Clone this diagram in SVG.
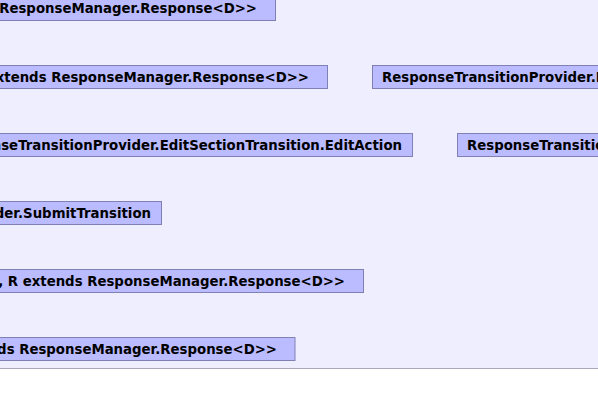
<svg xmlns="http://www.w3.org/2000/svg" width="598" height="406" viewBox="0 0 598 406">
<style>
.bg{fill:#EEEEFF}
.node rect{fill:#BBBBFF;stroke:#8080B4;stroke-width:1}
.node text{font-family:"DejaVu Sans",sans-serif;font-weight:bold;font-size:13.3px;fill:#000}
.r{text-anchor:end}
</style>
<rect x="0" y="0" width="598" height="406" fill="#FFFFFF"/>
<rect class="bg" x="0" y="0" width="598" height="368.5"/>
<line x1="0" y1="368.5" x2="598" y2="368.5" stroke="#A8A8B8" stroke-width="1"/>
<g id="connectors"></g>
<g id="n1" class="node"><rect x="-10" y="-3.5" width="285.5" height="24"/><text class="r" x="257" y="13">ResponseManager.Response&lt;D&gt;&gt;</text></g>
<g id="n2" class="node"><rect x="-10" y="65.5" width="337.5" height="23"/><text class="r" x="309" y="81.5">extends ResponseManager.Response&lt;D&gt;&gt;</text></g>
<g id="n3" class="node"><rect x="372.5" y="65.5" width="260" height="23"/><text x="382" y="81.5">ResponseTransitionProvider.EditSectionTransition</text></g>
<g id="n4" class="node"><rect x="-10" y="133.5" width="422.5" height="23"/><text class="r" x="402" y="149.5">ResponseTransitionProvider.EditSectionTransition.EditAction</text></g>
<g id="n5" class="node"><rect x="457.5" y="133.5" width="200" height="23"/><text x="467" y="149.5">ResponseTransitionProvider.SubmitTransition</text></g>
<g id="n6" class="node"><rect x="-10" y="201.5" width="171.5" height="23"/><text class="r" x="151" y="217.5">ResponseTransitionProvider.SubmitTransition</text></g>
<g id="n7" class="node"><rect x="-10" y="269.5" width="373.5" height="23"/><text class="r" x="345" y="285.5">, R extends ResponseManager.Response&lt;D&gt;&gt;</text></g>
<g id="n8" class="node"><rect x="-10" y="337.5" width="305" height="23"/><text class="r" x="277" y="353.5">extends ResponseManager.Response&lt;D&gt;&gt;</text></g>
</svg>
